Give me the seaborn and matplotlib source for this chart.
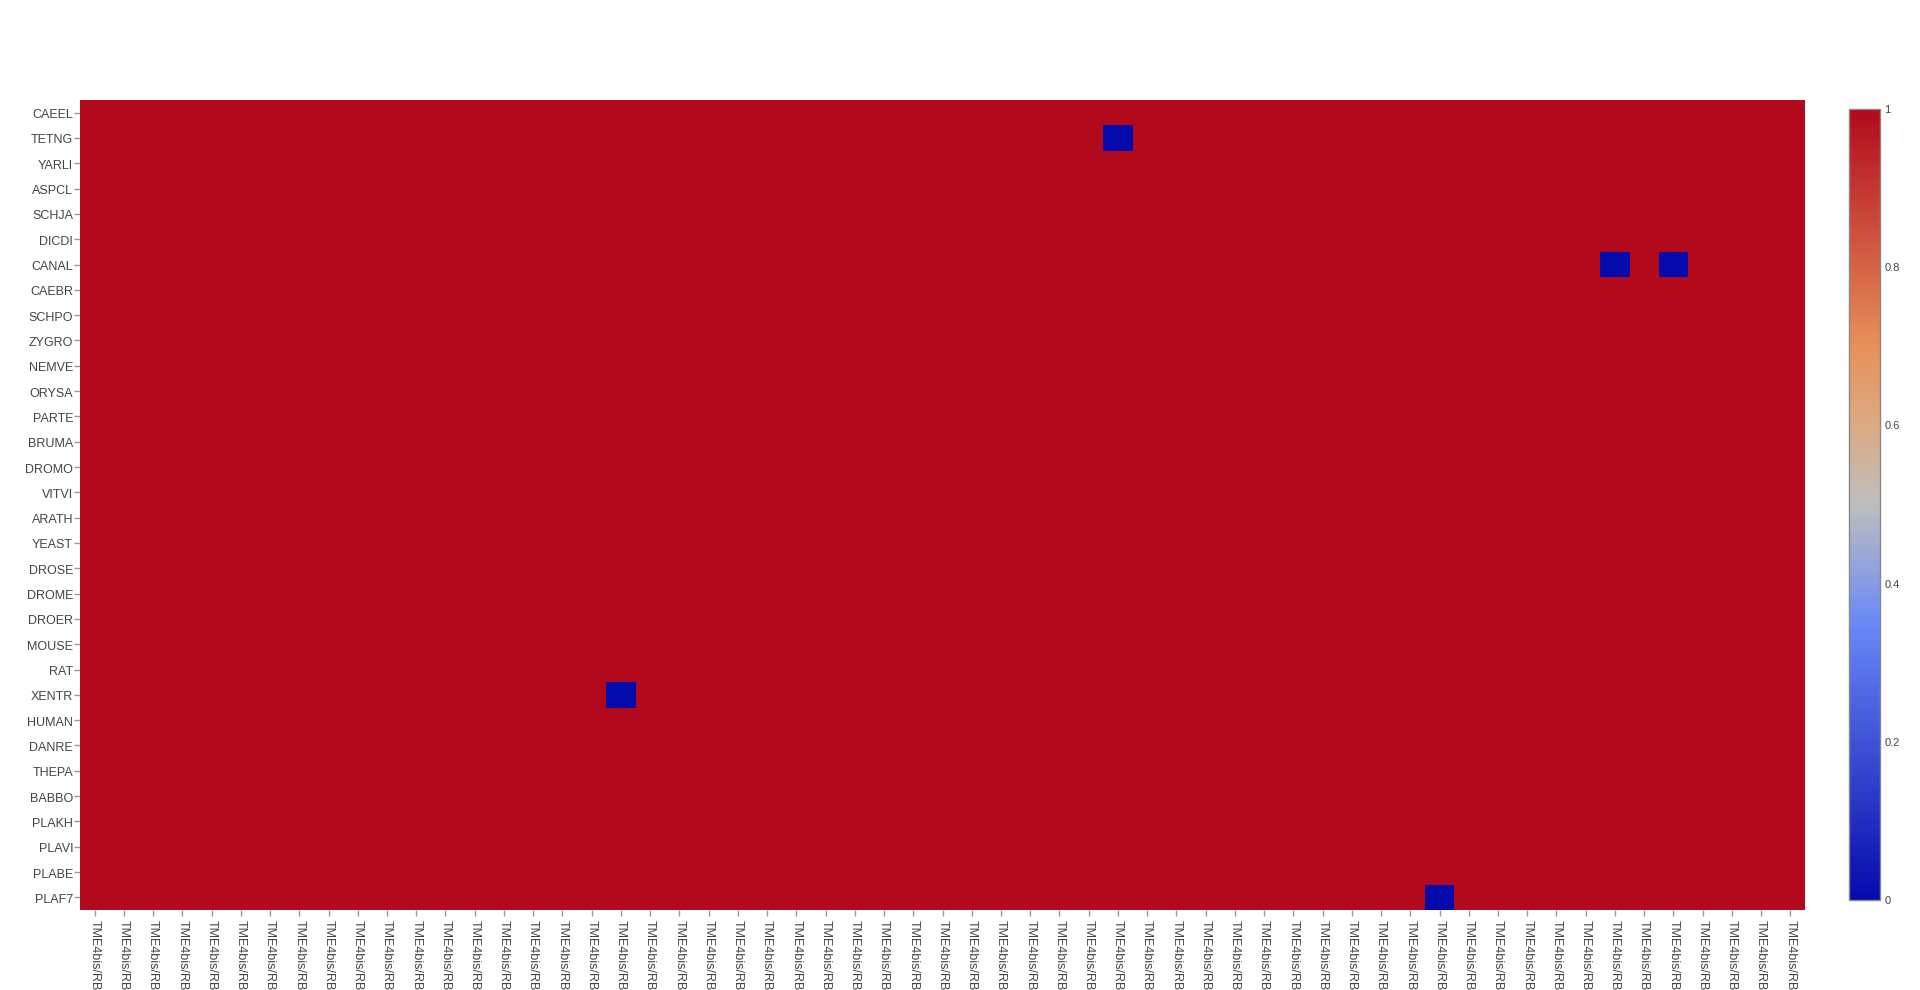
import numpy as np
import pandas as pd
import matplotlib
matplotlib.use("Agg")
import matplotlib.pyplot as plt
import matplotlib.transforms as mtransforms
from matplotlib.colors import LinearSegmentedColormap
import seaborn as sns

species = ["CAEEL", "TETNG", "YARLI", "ASPCL", "SCHJA", "DICDI", "CANAL", "CAEBR",
           "SCHPO", "ZYGRO", "NEMVE", "ORYSA", "PARTE", "BRUMA", "DROMO", "VITVI",
           "ARATH", "YEAST", "DROSE", "DROME", "DROER", "MOUSE", "RAT", "XENTR",
           "HUMAN", "DANRE", "THEPA", "BABBO", "PLAKH", "PLAVI", "PLABE", "PLAF7"]
n_cols = 59
col_labels = ["TME4bis/RB"] * n_cols
# cells with value 0 (species, column index); all other cells are 1
zero_cells = [("TETNG", 35), ("CANAL", 52), ("CANAL", 54), ("XENTR", 18), ("PLAF7", 46)]

values = np.ones((len(species), n_cols))
for sp, c in zero_cells:
    values[species.index(sp), c] = 0.0
df = pd.DataFrame(values, index=species, columns=range(n_cols))

cmap = LinearSegmentedColormap.from_list("plotly_rdbu", [
    (0.0, (5/255, 10/255, 172/255)),
    (0.35, (106/255, 137/255, 247/255)),
    (0.5, (190/255, 190/255, 190/255)),
    (0.6, (220/255, 170/255, 132/255)),
    (0.7, (230/255, 145/255, 90/255)),
    (1.0, (178/255, 10/255, 28/255)),
])

sns.set_style("white")
plt.rcParams['font.family'] = ['Liberation Sans', 'DejaVu Sans']

fig = plt.figure(figsize=(19.2, 9.9), dpi=100)
ax = fig.add_axes([80/1920, (990-910)/990, 1725/1920, 810/990])
cax = fig.add_axes([1849/1920, (990-900)/990, 31/1920, 791/990])

sns.heatmap(df, ax=ax, cbar_ax=cax, cmap=cmap, vmin=0, vmax=1,
            xticklabels=col_labels, yticklabels=species,
            cbar_kws={"ticks": [0, 0.2, 0.4, 0.6, 0.8, 1]})

ax.tick_params(axis="y", left=True, length=4, width=1, color="#999999", pad=1,
               labelsize=9, labelcolor="#444444")
ax.tick_params(axis="x", bottom=True, length=4, width=1, color="#999999", pad=3,
               labelsize=9, labelcolor="#444444")
plt.setp(ax.get_yticklabels(), rotation=0)
plt.setp(ax.get_xticklabels(), rotation=270, va="top", ha="center")
shift = mtransforms.ScaledTranslation(0, -2.5/100, fig.dpi_scale_trans)
for lbl in ax.get_yticklabels():
    lbl.set_transform(lbl.get_transform() + shift)

cax.tick_params(length=0, labelsize=8, labelcolor="#444444", pad=3)
cax.set_yticklabels(["0", "0.2", "0.4", "0.6", "0.8", "1"])
cbar = ax.collections[0].colorbar
cbar.outline.set_edgecolor("#888888")
cbar.outline.set_linewidth(1)

fig.savefig("out.png", dpi=100)
